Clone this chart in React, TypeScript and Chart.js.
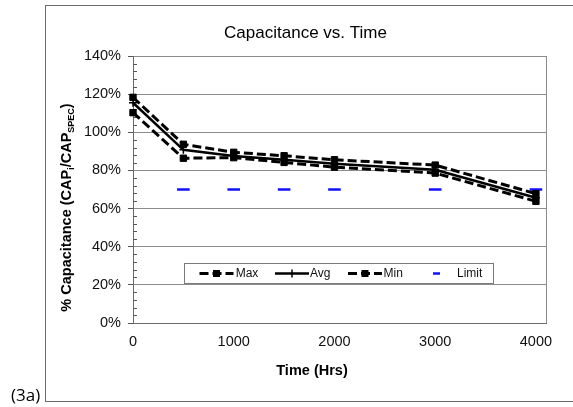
import React, { useEffect, useRef } from 'react';
import { Chart, registerables } from 'chart.js';

Chart.register(...registerables);

// ---- data ----
const hours = [0, 500, 1000, 1500, 2000, 3000, 4000];
const maxValues = [118.3, 93.7, 89.5, 87.7, 85.6, 82.8, 67.8];
const avgValues = [115.5, 90.8, 87.6, 85.6, 83.5, 80.3, 65.7];
const minValues = [110.3, 86.4, 86.7, 84.2, 81.7, 78.6, 63.8];
const limitHours = [500, 1000, 1500, 2000, 3000, 4000];
const limitValues = [70, 70, 70, 70, 70, 70];
const xTickValues = [0, 1000, 2000, 3000, 4000];
const yTickValues = [0, 20, 40, 60, 80, 100, 120, 140];
const seriesNames = ['Max', 'Avg', 'Min', 'Limit'];
const chartTitle = 'Capacitance vs. Time';
const xTitle = 'Time (Hrs)';
const yTitleParts = [
  { text: '% Capacitance (CAP', sub: false },
  { text: 'i', sub: true },
  { text: '/CAP', sub: false },
  { text: 'SPEC', sub: true },
  { text: ')', sub: false },
];
const figureLabel = '(3a)';

const FONT = '"Liberation Sans", Arial, sans-serif';

const toPoints = (xs: number[], ys: number[]) => xs.map((x, i) => ({ x, y: ys[i] }));

const framePlugin = {
  id: 'frameAndTexts',
  beforeDraw(chart: any) {
    const { ctx, chartArea: a } = chart;
    ctx.save();
    ctx.fillStyle = '#ffffff';
    ctx.fillRect(0, 0, chart.width, chart.height);
    // outer frame
    ctx.strokeStyle = '#6a6a6a';
    ctx.lineWidth = 1;
    ctx.strokeRect(45.5, 5.5, 700, 396);
    // figure label
    ctx.fillStyle = '#000';
    ctx.font = '17px "Open Sans", sans-serif';
    ctx.textAlign = 'left';
    ctx.textBaseline = 'alphabetic';
    ctx.fillText(figureLabel, 11, 401);
    // title
    ctx.font = '17px ' + FONT;
    ctx.textAlign = 'center';
    ctx.fillText(chartTitle, a.left + 172.5, 37.5);
    // x title
    ctx.font = 'bold 14.5px ' + FONT;
    ctx.fillText(xTitle, a.left + 179, 374.5);
    // y title (rotated with subscripts)
    const mainF = 'bold 14.5px ' + FONT;
    const subF = 'bold 9px ' + FONT;
    let total = 0;
    for (const p of yTitleParts) {
      ctx.font = p.sub ? subF : mainF;
      total += ctx.measureText(p.text).width;
    }
    ctx.translate(70.5, 207.5);
    ctx.rotate(-Math.PI / 2);
    ctx.textAlign = 'left';
    let x = -total / 2;
    for (const p of yTitleParts) {
      ctx.font = p.sub ? subF : mainF;
      ctx.fillText(p.text, x, p.sub ? 3 : 0);
      x += ctx.measureText(p.text).width;
    }
    ctx.restore();
  },
  beforeDatasetsDraw(chart: any) {
    const { ctx, chartArea: a, scales } = chart;
    ctx.save();
    // right border of plot area
    ctx.strokeStyle = '#8c8c8c';
    ctx.lineWidth = 1;
    ctx.beginPath();
    ctx.moveTo(Math.round(a.right) + 0.5, a.top);
    ctx.lineTo(Math.round(a.right) + 0.5, a.bottom);
    ctx.stroke();
    // minor ticks on the y axis
    ctx.strokeStyle = '#555';
    const y = scales.y;
    for (let v = 0; v <= 140; v += 4) {
      if (v % 20 === 0) continue;
      const py = Math.round(y.getPixelForValue(v)) + 0.5;
      ctx.beginPath();
      ctx.moveTo(a.left, py);
      ctx.lineTo(a.left + 4, py);
      ctx.stroke();
    }
    ctx.restore();
  },
};

const legendLayout = [
  { sym: 15.5, len: 34, text: 51.7 },
  { sym: 91, len: 34, text: 126 },
  { sym: 164, len: 34, text: 199.5 },
  { sym: 249, len: 7, text: 273 },
];

const legendPlugin = {
  id: 'boxLegend',
  afterDatasetsDraw(chart: any) {
    const { ctx, chartArea: a } = chart;
    const x0 = Math.round(a.left + 50.5);
    const y0 = Math.round(a.top + 207);
    const w = 309;
    const h = 20;
    const cy = y0 + h / 2 + 0.5;
    ctx.save();
    ctx.fillStyle = '#fff';
    ctx.fillRect(x0, y0, w, h);
    ctx.strokeStyle = '#7a7a7a';
    ctx.lineWidth = 1;
    ctx.strokeRect(x0 + 0.5, y0 + 0.5, w, h);
    chart.data.datasets.forEach((ds: any, i: number) => {
      const L = legendLayout[i];
      const sx = x0 + L.sym;
      ctx.strokeStyle = ds.borderColor;
      ctx.fillStyle = ds.borderColor;
      if (ds.showLine === false) {
        ctx.lineWidth = ds.pointBorderWidth;
        ctx.setLineDash([]);
        ctx.beginPath();
        ctx.moveTo(sx, cy);
        ctx.lineTo(sx + L.len, cy);
        ctx.stroke();
      } else {
        ctx.lineWidth = ds.borderWidth;
        ctx.setLineDash(ds.borderDash || []);
        ctx.beginPath();
        ctx.moveTo(sx, cy);
        ctx.lineTo(sx + L.len, cy);
        ctx.stroke();
        ctx.setLineDash([]);
        const mx = sx + L.len / 2;
        if (ds.pointStyle === 'rect') {
          ctx.fillRect(mx - 3.5, cy - 3.5, 7, 7);
        } else if (ds.pointStyle === 'cross') {
          ctx.lineWidth = 1.5;
          ctx.beginPath();
          ctx.moveTo(mx, cy - 4);
          ctx.lineTo(mx, cy + 4);
          ctx.stroke();
        }
      }
      ctx.fillStyle = '#111';
      ctx.font = '12px ' + FONT;
      ctx.textAlign = 'left';
      ctx.textBaseline = 'middle';
      ctx.fillText(ds.label, x0 + L.text, cy);
    });
    ctx.restore();
  },
};

export default function App() {
  const ref = useRef<HTMLCanvasElement | null>(null);
  useEffect(() => {
    if (!ref.current) return;
    const chart = new Chart(ref.current, {
      type: 'scatter',
      data: {
        datasets: [
          {
            label: seriesNames[0],
            data: toPoints(hours, maxValues),
            showLine: true,
            borderColor: '#000',
            backgroundColor: '#000',
            borderWidth: 3,
            borderDash: [9, 4],
            pointStyle: 'rect',
            pointRadius: 4.5,
            pointBorderWidth: 1,
          },
          {
            label: seriesNames[1],
            data: toPoints(hours, avgValues),
            showLine: true,
            borderColor: '#000',
            backgroundColor: '#000',
            borderWidth: 2.5,
            pointStyle: 'cross',
            pointRadius: 4,
            pointBorderWidth: 1.5,
          },
          {
            label: seriesNames[2],
            data: toPoints(hours, minValues),
            showLine: true,
            borderColor: '#000',
            backgroundColor: '#000',
            borderWidth: 3,
            borderDash: [9, 4],
            pointStyle: 'rect',
            pointRadius: 4.5,
            pointBorderWidth: 1,
          },
          {
            label: seriesNames[3],
            data: toPoints(limitHours, limitValues),
            showLine: false,
            borderColor: '#1010ff',
            backgroundColor: '#1010ff',
            pointStyle: 'line',
            pointRadius: 6.3,
            pointBorderWidth: 2.5,
          },
        ] as any,
      },
      options: {
        animation: false,
        responsive: false,
        devicePixelRatio: 1,
        clip: false as any,
        layout: { padding: { left: 45, right: 27, top: 56, bottom: 0 } },
        plugins: {
          legend: { display: false },
          title: { display: false },
          tooltip: { enabled: false },
        },
        elements: { line: { tension: 0 } },
        scales: {
          x: {
            type: 'linear',
            min: 0,
            max: 4100,
            afterBuildTicks: (s: any) => {
              s.ticks = xTickValues.map((v) => ({ value: v }));
            },
            afterFit: (s: any) => {
              s.height = 84;
            },
            grid: { display: true, drawOnChartArea: false, drawTicks: false },
            border: { display: true, color: '#6a6a6a', width: 1 },
            ticks: {
              padding: 10,
              color: '#111',
              font: { family: FONT, size: 14.5 },
              maxRotation: 0,
              callback: (v: any) => String(v),
            },
          },
          y: {
            type: 'linear',
            min: 0,
            max: 140,
            afterBuildTicks: (s: any) => {
              s.ticks = yTickValues.map((v) => ({ value: v }));
            },
            afterFit: (s: any) => {
              s.width = 88;
            },
            grid: {
              color: '#8c8c8c',
              lineWidth: 1,
              drawTicks: true,
              tickLength: 5,
              tickColor: '#555',
            },
            border: { display: true, color: '#6a6a6a', width: 1 },
            ticks: {
              padding: 7,
              color: '#111',
              font: { family: FONT, size: 14.5 },
              callback: (v: any) => v + '%',
            },
          },
        },
      } as any,
      plugins: [framePlugin, legendPlugin],
    });
    return () => chart.destroy();
  }, []);
  return (
    <div style={{ position: 'absolute', left: 0, top: 0, width: 573, height: 407 }}>
      <canvas ref={ref} width={573} height={407} style={{ display: 'block' }} />
    </div>
  );
}
